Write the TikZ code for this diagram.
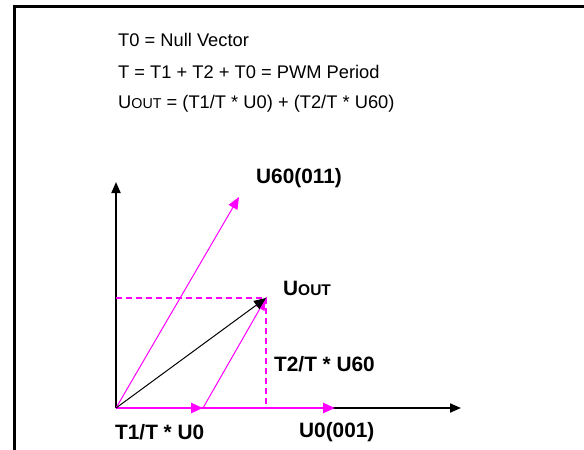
\documentclass[tikz,border=0pt]{standalone}
\usepackage{fontspec}
\setmainfont{Liberation Sans}
\usetikzlibrary{arrows.meta}
\definecolor{mag}{RGB}{255,0,255}
\newcommand{\Uout}[1]{U{\fontsize{#1}{#1}\selectfont OUT}}
\begin{document}
\begin{tikzpicture}[x=1pt,y=-1pt,
  txt/.style={anchor=west,inner sep=0pt,font=\fontsize{18.3}{20}\selectfont},
  lbl/.style={anchor=west,inner sep=0pt,font=\fontsize{20.8}{22}\selectfont\bfseries},
  axis/.style={line width=2pt,-{Triangle[length=11pt,width=9pt]}},
  thickvec/.style={mag,line width=2.5pt,-{Triangle[length=12pt,width=10pt]}},
  thinvec/.style={mag,line width=1pt,-{Triangle[length=12pt,width=10pt]}},
  guide/.style={mag,line width=1.5pt,dash pattern=on 6pt off 4pt}]
\useasboundingbox (0,0) rectangle (584,450);
\draw[line width=3pt] (584,6) -- (14,6) -- (14,450);
\node[txt] (l1) at (118,40) {T0 = Null Vector};
\node[txt] (l2) at (118,72) {T = T1 + T2 + T0 = PWM Period};
\node[txt] (l3) at (118,104) {\Uout{14.3} = (T1/T * U0) + (T2/T * U60)};
\coordinate (O) at (116,408);
\coordinate (ytop) at (116,182);
\coordinate (xend) at (461,408);
\coordinate (U0) at (335,408);
\coordinate (A) at (203,408);
\coordinate (U60) at (239,197);
\coordinate (Uo) at (266,298);
\coordinate (Uy) at (116,298);
\coordinate (Ux) at (266,408);
\draw[axis] (O) -- (ytop);
\draw[axis] (O) -- (xend);
\draw[guide] (Uy) -- (Uo) -- (Ux);
\draw[thickvec] (O) -- (U0);
\draw[thickvec] (O) -- (A);
\draw[thinvec] (O) -- (U60);
\draw[thinvec] (A) -- (Uo);
\draw[line width=1pt,-{Triangle[length=12pt,width=10pt]}] (O) -- (Uo);
\node[lbl] (n60) at (256,178) {U60(011)};
\node[lbl] (nuo) at (283,288) {\Uout{15.5}};
\node[lbl] (nt2) at (274,364) {T2/T * U60};
\node[lbl] (nt1) at (115,432) {T1/T * U0};
\node[lbl] (nu0) at (299,432) {U0(001)};
\end{tikzpicture}
\end{document}
